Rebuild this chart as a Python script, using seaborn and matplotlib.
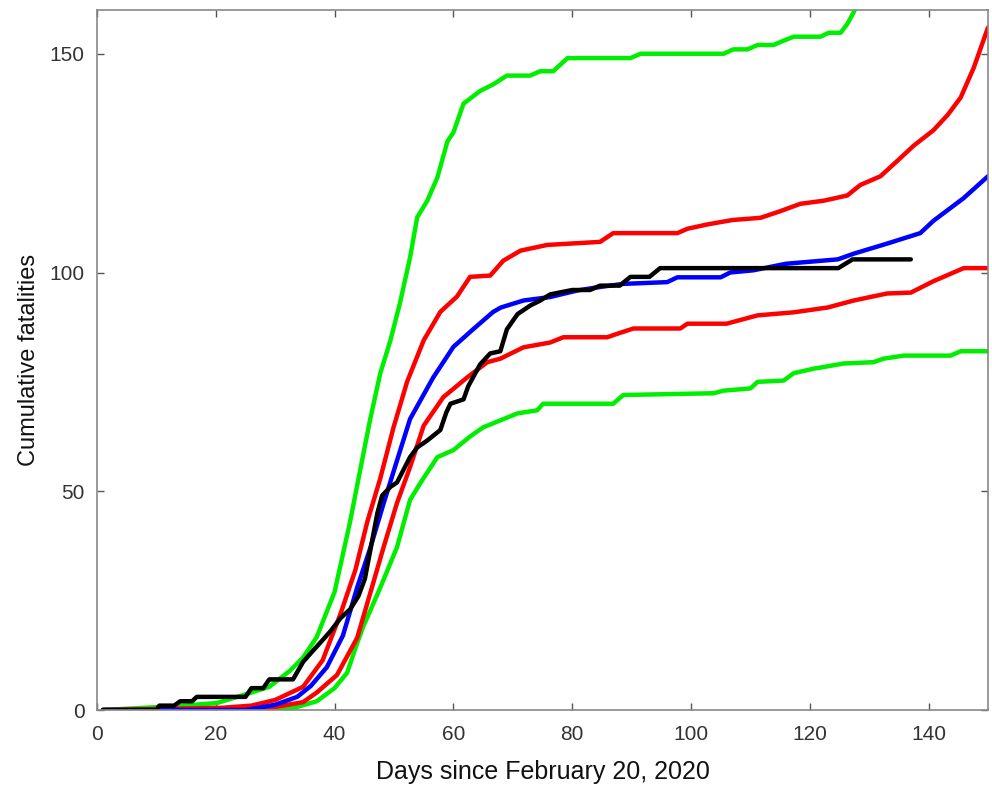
import pandas as pd
import matplotlib
matplotlib.use('Agg')
import matplotlib.pyplot as plt
import seaborn as sns

# observed cumulative fatalities (black)
obs_days = [1, 10, 10.5, 13, 14, 16, 16.8, 25, 26, 28, 29, 33, 34.7, 36, 38, 39.3, 41, 42.6, 44, 45.1,
            46.5, 47.2, 48, 49.4, 50.5, 52.7, 53.9, 55.6, 57.8, 58.8, 59.5, 61.7, 62.5, 64.5, 66.2, 67.9,
            69, 70.8, 73, 74.5, 76.3, 80, 83, 84.7, 88, 89.8, 93, 94.8, 100, 110, 120, 124.8, 127.2, 137]
obs_vals = [0, 0, 1, 1, 2, 2, 3, 3, 5, 5, 7, 7, 11, 13, 16, 18, 21, 23, 26, 30,
            40, 45, 49, 51, 52, 57.8, 60, 61.6, 64, 68, 70, 71, 74, 79, 81.5, 82,
            87, 90.5, 92.5, 93.5, 95, 96, 96, 97, 97, 99, 99, 101, 101, 101, 101, 101, 103, 103]

# model median (blue)
med_days = [1, 25, 30, 33.7, 36, 38.7, 41.4, 43.8, 46, 48.2, 50.5, 52.7, 56.6, 60, 63.3, 66.7, 68,
            71.8, 76.3, 80.9, 84.2, 88.6, 96, 97.7, 105, 106.6, 110.5, 116, 124.7, 127.4, 133, 138.6,
            140.8, 145.9, 150]
med_vals = [0, 0, 1.2, 3, 5.5, 9.8, 17, 28, 37, 47, 57, 66.5, 76, 83, 87, 91, 92,
            93.6, 94.4, 95.9, 96.6, 97.4, 97.8, 98.9, 98.9, 100, 100.5, 102, 103, 104.3, 106.6, 109,
            111.8, 117, 122]

# inner band (red)
hi1_days = [1, 21, 26, 30, 34.7, 38, 41, 43.5, 45.5, 47.7, 49.9, 52.2, 55, 57.8, 60.6, 62.8, 66.2,
            68.4, 71.3, 75.8, 84.7, 86.9, 97.7, 99.4, 102.8, 107, 111.7, 115, 118.4, 122.3, 126.3,
            128.5, 131.9, 134.8, 137.5, 140.8, 143.2, 145.4, 147.6, 150]
hi1_vals = [0, 0.5, 1, 2.3, 5.3, 11.4, 22, 32, 43, 53, 64.5, 75, 84.5, 91, 94.5, 99, 99.3,
            102.7, 105, 106.3, 107, 109, 109, 110, 111, 112, 112.5, 114, 115.7, 116.4, 117.6,
            120, 122, 125.6, 129, 132.5, 136, 140, 146.8, 156]
lo1_days = [1, 26, 30, 34.7, 37, 40.4, 43.8, 46, 48.2, 50.5, 52.7, 55, 58.3, 62.3, 65.7, 67.9, 71.8,
            76.3, 78.5, 85.9, 87.6, 90.3, 98.2, 99.4, 106, 111.2, 117.3, 123, 127.4, 133, 137, 140.8,
            144.2, 145.9, 150]
lo1_vals = [0, 0, 0.7, 1.8, 4, 8, 16.5, 26.7, 37, 47.3, 55.5, 65, 71.5, 76, 79.5, 80.3, 82.9,
            84, 85.2, 85.2, 86, 87.2, 87.2, 88.3, 88.3, 90.2, 90.9, 92, 93.6, 95.2, 95.4, 98,
            100, 101, 101]

# outer band (green)
hi2_days = [1, 13.5, 20.2, 25.8, 29, 32.5, 34.7, 37, 40, 42.6, 44.3, 46, 47.7, 49.4, 51, 52.7, 53.9,
            55.6, 57.3, 59, 60, 61.7, 64.5, 66.7, 69, 72.9, 74.6, 76.8, 79.2, 89.8, 91.5, 105.5, 107.1,
            109.5, 111.2, 113.9, 115.6, 117.3, 121.8, 123.2, 125.2, 126.3, 127.4, 128.5]
hi2_vals = [0, 0.9, 1.6, 3.9, 5.3, 9, 12, 16.7, 27, 43, 54.8, 66.5, 77, 84.5, 93, 103.4, 112.6,
            116.4, 121.7, 130, 132, 138.6, 141.5, 143, 145, 145, 146, 146, 149, 149, 150, 150, 151,
            151, 152, 152, 153, 153.9, 153.9, 154.8, 154.8, 156.8, 159.5, 163]
lo2_days = [1, 30, 33.7, 37, 40, 42.1, 43.8, 44.8, 47.7, 50.5, 52.7, 54.4, 57.3, 60, 62.8, 65, 67.9,
            70.8, 74.1, 75.1, 86.9, 88.6, 103.8, 105.5, 110, 111.2, 115.6, 117.3, 120.6, 125.7, 130.7,
            132.4, 135.8, 143.7, 145.4, 150]
lo2_vals = [0, 0, 0.7, 2, 5, 8.5, 15.3, 19, 28, 37.2, 48, 51.8, 57.8, 59.4, 62.5, 64.6, 66.2,
            67.8, 68.5, 70, 70, 72, 72.4, 73, 73.5, 75, 75.3, 77, 78, 79.2, 79.5,
            80.3, 81, 81, 82, 82]

series = [('lo2', lo2_days, lo2_vals), ('hi2', hi2_days, hi2_vals),
          ('lo1', lo1_days, lo1_vals), ('hi1', hi1_days, hi1_vals),
          ('med', med_days, med_vals), ('obs', obs_days, obs_vals)]
palette = {'lo2': '#00ee00', 'hi2': '#00ee00', 'lo1': '#ff0000', 'hi1': '#ff0000',
           'med': '#0000ff', 'obs': '#000000'}

frames = [pd.DataFrame({'day': d, 'deaths': v, 'curve': name}) for name, d, v in series]
df = pd.concat(frames, ignore_index=True)

sns.set_style("ticks")
plt.rcParams['font.family'] = ['Liberation Sans', 'DejaVu Sans']

fig = plt.figure(figsize=(9.92, 7.92), dpi=100)
ax = fig.add_axes([97/992, 1 - 710/792, (988 - 97)/992, 700/792])

for name, d, v in series:
    sub = df[df['curve'] == name]
    sns.lineplot(data=sub, x='day', y='deaths', color=palette[name], linewidth=3.2,
                 estimator=None, sort=False, ax=ax)

ax.set_xlim(0, 150)
ax.set_ylim(0, 160)
ax.set_xticks([0, 20, 40, 60, 80, 100, 120, 140])
ax.set_yticks([0, 50, 100, 150])
ax.tick_params(direction='in', length=5, width=1, colors='#555555', labelcolor='#333333',
               labelsize=15, top=True, right=True)
ax.tick_params(axis='x', pad=11)
ax.tick_params(axis='y', pad=9)
for s in ax.spines.values():
    s.set_color('#888888')
    s.set_linewidth(1.2)
ax.set_xlabel('Days since February 20, 2020', fontsize=18, color='#111111', labelpad=11)
ax.set_ylabel('Cumulative fatalities', fontsize=17, color='#111111', labelpad=7)

fig.savefig('out.png', dpi=100)
